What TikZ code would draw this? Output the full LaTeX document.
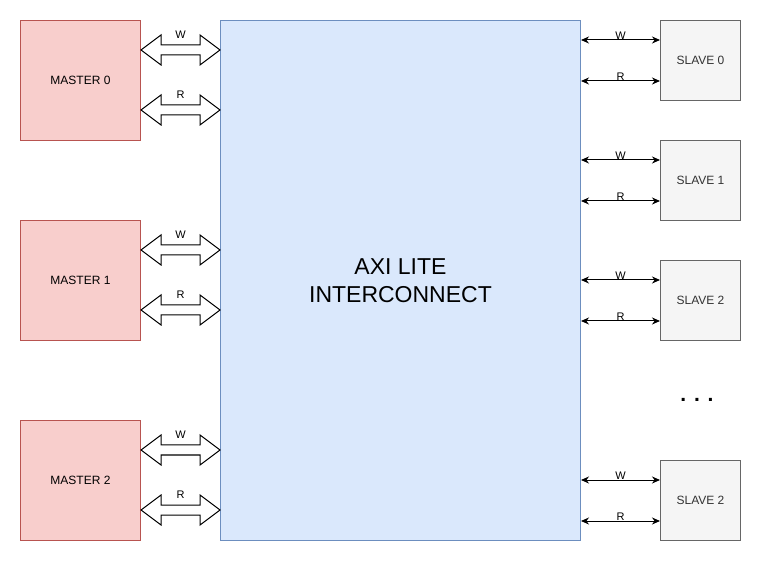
\documentclass[tikz,border=0pt]{standalone}
\usepackage{fontspec}
\setmainfont{Liberation Sans}
\usetikzlibrary{calc,arrows.meta}
\definecolor{mfill}{HTML}{F8CECC}
\definecolor{mline}{HTML}{B85450}
\definecolor{afill}{HTML}{DAE8FC}
\definecolor{aline}{HTML}{6C8EBF}
\definecolor{sfill}{HTML}{F5F5F5}
\definecolor{sline}{HTML}{666666}
\definecolor{stext}{HTML}{333333}
\begin{document}
\begin{tikzpicture}[x=1pt,y=-1pt,line join=miter,line width=1pt,
	master/.style={draw=mline,fill=mfill,anchor=north west,minimum width=120pt,minimum height=120pt,inner sep=0pt,font=\fontsize{12}{14}\selectfont},
	slave/.style={draw=sline,fill=sfill,text=stext,anchor=north west,minimum width=80pt,minimum height=80pt,inner sep=0pt,font=\fontsize{12}{14}\selectfont},
	fatarrow/.style={draw=black,fill=white},
	lbl/.style={inner sep=0pt,font=\fontsize{11}{13}\selectfont},
	>={Stealth[length=8pt,width=7pt]}]
				\useasboundingbox (0,0) rectangle (761,561);
				\def\gap{20} % lengte van de pijlkop
				% het interconnect blok
				\node[draw=aline,fill=afill,anchor=north west,minimum width=360pt,minimum height=520pt,inner sep=0pt,
					align=center,font=\fontsize{23}{28}\selectfont] (axi) at (220,20) {AXI LITE\\INTERCONNECT};
				% masters met dikke pijlen
				\foreach \i/\y in {0/20,1/220,2/420}{
					\node[master] (m\i) at (20,\y) {MASTER \i};
					\foreach \k/\d/\t in {w/30/W,r/90/R}{
						\path (m\i.north east) ++(0,\d) coordinate (m\i\k)
						(axi.west |- m\i\k) coordinate (a\i\k);
						\draw[fatarrow] (m\i\k) -- ++(\gap,-15) -- ++(0,10) -- ($(a\i\k)+(-\gap,-5)$) -- ++(0,-10) -- (a\i\k)
						-- ++(-\gap,15) -- ++(0,-10) -- ($(m\i\k)+(\gap,5)$) -- ++(0,10) -- cycle;
						\node[lbl] (m\i\k t) at ($(m\i\k)!0.5!(a\i\k)+(0,-15)$) {\t};
					}
				}
				% slaves met dunne pijlen
				\foreach \i/\y/\n in {0/20/0,1/140/1,2/260/2,3/460/2}{
					\node[slave] (s\i) at (660,\y) {SLAVE \n};
					\path (s\i.north west) ++(0,20) coordinate (s\i w)
					(s\i.south west) ++(0,-20) coordinate (s\i r);
					\draw[<->] (axi.east |- s\i w) -- (s\i w) node[midway,above,inner sep=1pt,lbl]{W};
					\draw[<->] (axi.east |- s\i r) -- (s\i r) node[midway,above,inner sep=1pt,lbl]{R};
				}
				\node[font=\fontsize{21}{24}\selectfont\bfseries] (dots) at (697,400) {. . .};
\end{tikzpicture}
\end{document}
